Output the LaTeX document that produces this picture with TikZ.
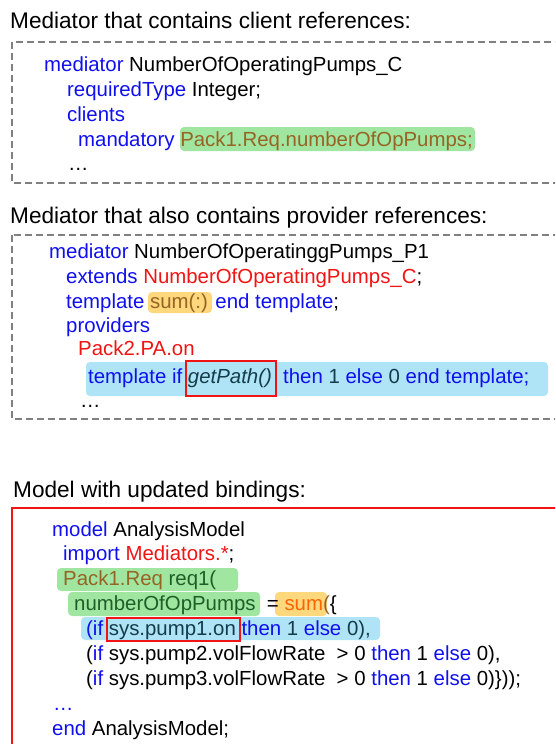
\documentclass[tikz,border=0pt]{standalone}
\usepackage{fontspec}
\setmainfont{Liberation Sans}
\usetikzlibrary{calc}
\definecolor{kwblue}{RGB}{15,15,240}
\definecolor{refred}{RGB}{240,20,20}
\definecolor{brownref}{RGB}{150,100,35}
\definecolor{darkgreen}{RGB}{30,95,40}
\definecolor{tealtxt}{RGB}{20,60,75}
\definecolor{sumorange}{RGB}{255,100,0}
\definecolor{greenhl}{RGB}{160,230,160}
\definecolor{yellowhl}{RGB}{255,215,125}
\definecolor{bluehl}{RGB}{175,228,246}
\definecolor{boxgray}{RGB}{128,128,128}
\def\kw#1{\textcolor{kwblue}{#1}}
\def\rf#1{\textcolor{refred}{#1}}

\begin{document}
\begin{tikzpicture}[x=1pt,y=-1pt,
	title/.style={anchor=base west, inner sep=0pt, font=\fontsize{22.6}{27}\selectfont},
	code/.style={anchor=base west, inner sep=0pt, font=\fontsize{20.4}{25}\selectfont},
	dashbox/.style={draw=boxgray, line width=1.6pt, dash pattern=on 7pt off 4pt},
	hl/.style={rounded corners=4pt}]
		\useasboundingbox (0,0) rectangle (555,744);
		\clip (0,0) rectangle (555,744);
		
		%%%%% CLIENT MEDIATOR %%%%%
		
		\node[title] (t1) at (10,28) {Mediator that contains client references:};
		\draw[dashbox] (12,42) rectangle (575,183);
		
		\fill[hl, greenhl] (180,127) rectangle (475,151);
		
		\node[code] (a1) at (44,71) {\kw{mediator} NumberOfOperatingPumps\_C};
		\node[code] (a2) at (67,96) {\kw{requiredType} Integer;};
		\node[code] (a3) at (67,121) {\kw{clients}};
		\node[code] (a4) at (78,146) {\kw{mandatory} \textcolor{brownref}{Pack1.Req.numberOfOpPumps;}};
		\node[code] (a5) at (68,170) {\ldots};
		
		%%%%% PROVIDER MEDIATOR %%%%%
		
		\node[title] (t2) at (10,223) {Mediator that also contains provider references:};
		\draw[dashbox] (12,235) rectangle (575,419);
		
		\fill[hl, yellowhl] (148,292) rectangle (212,313);
		\fill[hl, bluehl] (86,362) rectangle (548,396);
		
		\node[code] (b1) at (49,258) {\kw{mediator} NumberOfOperatinggPumps\_P1};
		\node[code] (b2) at (66,283) {\kw{extends} \rf{NumberOfOperatingPumps\_C};};
		\node[code] (b3) at (66,308) {\kw{template} \textcolor{brownref}{sum(:)} \kw{end template};};
		\node[code] (b4) at (66,332) {\kw{providers}};
		\node[code] (b5) at (78,355) {\rf{Pack2.PA.on}};
		\node[code] (b6) at (88,383) {\kw{template if} \textcolor{tealtxt}{\textit{getPath()}}\ \ \kw{then} \textcolor{tealtxt}{1} \kw{else} \textcolor{tealtxt}{0} \kw{end template;}};
		\node[code] (b7) at (80,407) {\ldots};
		
		\draw[refred, line width=1.2pt] (186,361) rectangle (276,396);
		
		%%%%% MODEL %%%%%
		
		\node[title] (t3) at (13,497) {Model with updated bindings:};
		\draw[refred, line width=1.6pt] (12,508) rectangle (575,770);
		
		\fill[hl, greenhl] (57,568) rectangle (238,591);
		\fill[hl, greenhl] (68,592) rectangle (260,616);
		\fill[hl, yellowhl] (275,592) rectangle (327,616);
		\fill[hl, bluehl] (81,617) rectangle (380,640);
		
		\node[code] (m1) at (52,536) {\kw{model} AnalysisModel};
		\node[code] (m2) at (63,560) {\kw{import} \rf{Mediators.*};};
		\node[code] (m3) at (63,585) {\textcolor{brownref}{Pack1.Req} \textcolor{darkgreen}{req1(}};
		\node[code] (m4) at (74,610) {\textcolor{darkgreen}{numberOfOpPumps} \ = \textcolor{sumorange}{sum}\textcolor{brownref}{(}\{};
		\node[code] (m5) at (86,635) {\kw{(if} \textcolor{tealtxt}{sys.pump1.on} \kw{then} \textcolor{tealtxt}{1} \kw{else} \textcolor{tealtxt}{0),}};
		\node[code] (m6) at (86,660) {(\kw{if} sys.pump2.volFlowRate\ \ > 0 \kw{then} 1 \kw{else} 0),};
		\node[code] (m7) at (86,685) {(\kw{if} sys.pump3.volFlowRate\ \ > 0 \kw{then} 1 \kw{else} 0)\}));};
		\node[code] (m8) at (53,710) {\kw{\ldots}};
		\node[code] (m9) at (52,735) {\kw{end} AnalysisModel;};
		
		\draw[refred, line width=1.2pt] (107,618) rectangle (240,641);
		
		%%%%% END %%%%%
	\end{tikzpicture}
\end{document}
